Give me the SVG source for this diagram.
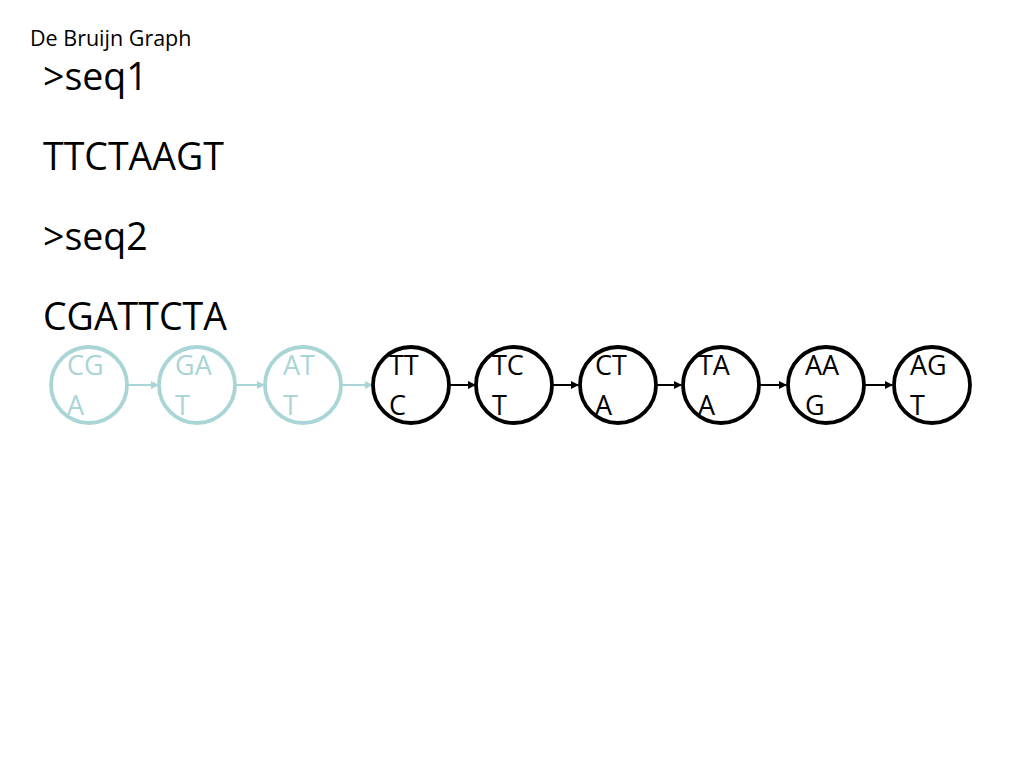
<svg xmlns="http://www.w3.org/2000/svg" width="1024" height="768" viewBox="0 0 1024 768">
<defs>
<style>
text{font-family:"Open Sans","Liberation Sans",sans-serif;}
.t{font-size:21.5px;fill:#000}
.h{font-size:37.5px;fill:#000}
.l{font-size:27px}
.nb circle{fill:none;stroke:#000;stroke-width:3.8}
.nb text{fill:#000}
.nf circle{fill:none;stroke:#a9d5d6;stroke-width:3.8}
.nf text{fill:#a9d5d6}
.eb{stroke:#000;stroke-width:2;marker-end:url(#ab)}
.ef{stroke:#a9d5d6;stroke-width:2;marker-end:url(#af)}
</style>
<marker id="ab" markerWidth="8" markerHeight="8" refX="7" refY="4" orient="auto" markerUnits="userSpaceOnUse"><path d="M0,0L8,4L0,8z" fill="#000"/></marker>
<marker id="af" markerWidth="8" markerHeight="8" refX="7" refY="4" orient="auto" markerUnits="userSpaceOnUse"><path d="M0,0L8,4L0,8z" fill="#a9d5d6"/></marker>
</defs>
<rect width="1024" height="768" fill="#fff"/>
<text class="t" x="30" y="46">De Bruijn Graph</text>
<text class="h" x="43" y="90">&gt;seq1</text>
<text class="h" x="43" y="170">TTCTAAGT</text>
<text class="h" x="43" y="250">&gt;seq2</text>
<text class="h" x="43" y="330">CGATTCTA</text>
<g id="connectors">
<line class="ef" x1="128" y1="385" x2="158" y2="385"/>
<line class="ef" x1="236" y1="385" x2="264" y2="385"/>
<line class="ef" x1="342" y1="385" x2="372" y2="385"/>
<line class="eb" x1="450" y1="385" x2="475" y2="385"/>
<line class="eb" x1="553" y1="385" x2="578" y2="385"/>
<line class="eb" x1="657" y1="385" x2="681" y2="385"/>
<line class="eb" x1="760" y1="385" x2="786" y2="385"/>
<line class="eb" x1="865" y1="385" x2="892" y2="385"/>
</g>
<g id="n_CGA" class="nf"><circle cx="89" cy="385" r="38"/><text class="l" x="67" y="375">CG</text><text class="l" x="67" y="415">A</text></g>
<g id="n_GAT" class="nf"><circle cx="197" cy="385" r="38"/><text class="l" x="175" y="375">GA</text><text class="l" x="175" y="415">T</text></g>
<g id="n_ATT" class="nf"><circle cx="303" cy="385" r="38"/><text class="l" x="283" y="375">AT</text><text class="l" x="283" y="415">T</text></g>
<g id="n_TTC" class="nb"><circle cx="411" cy="385" r="38"/><text class="l" x="389" y="375">TT</text><text class="l" x="389" y="415">C</text></g>
<g id="n_TCT" class="nb"><circle cx="514" cy="385" r="38"/><text class="l" x="492" y="375">TC</text><text class="l" x="492" y="415">T</text></g>
<g id="n_CTA" class="nb"><circle cx="618" cy="385" r="38"/><text class="l" x="595" y="375">CT</text><text class="l" x="595" y="415">A</text></g>
<g id="n_TAA" class="nb"><circle cx="721" cy="385" r="38"/><text class="l" x="698" y="375">TA</text><text class="l" x="698" y="415">A</text></g>
<g id="n_AAG" class="nb"><circle cx="826" cy="385" r="38"/><text class="l" x="805" y="375">AA</text><text class="l" x="805" y="415">G</text></g>
<g id="n_AGT" class="nb"><circle cx="932" cy="385" r="38"/><text class="l" x="910" y="375">AG</text><text class="l" x="910" y="415">T</text></g>
</svg>
